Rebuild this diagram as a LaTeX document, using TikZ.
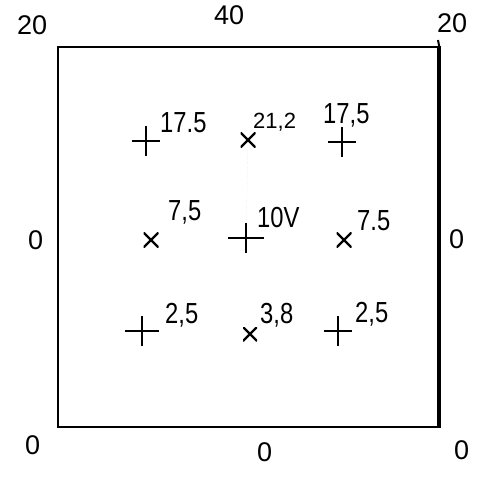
\documentclass[tikz,border=0pt]{standalone}
\usepackage{fontspec}
\setmainfont{Liberation Sans}
\newfontfamily\narrowfont[FakeStretch=0.82]{Liberation Sans}
\usetikzlibrary{positioning}

\begin{document}
\begin{tikzpicture}[x=1pt,y=-1pt,
  val/.style={font=\narrowfont\fontsize{29}{29}\selectfont,anchor=base west,inner sep=0pt},
  small/.style={val,font=\fontsize{22}{22}\selectfont},
  rim/.style={font=\fontsize{27}{27}\selectfont,anchor=base west,inner sep=0pt},
  plusmk/.style={inner sep=0pt,minimum width=28pt,minimum height=30pt,
    path picture={\draw[line width=2.2pt] (path picture bounding box.west) -- (path picture bounding box.east)
      (path picture bounding box.north) -- (path picture bounding box.south);}},
  crossmk/.style={inner sep=0pt,minimum size=15pt,
    path picture={\draw[line width=2.2pt] (path picture bounding box.north west) -- (path picture bounding box.south east)
      (path picture bounding box.north east) -- (path picture bounding box.south west);}}
]
\useasboundingbox (0,0) rectangle (478,477);

% ---- plate ----
\node[draw,line width=2.2pt,inner sep=0pt,minimum width=380pt,minimum height=380pt] (plate) at (248,237) {};
\draw[line width=3.4pt] (plate.north east) -- (plate.south east);
\coordinate (tick) at (438,40);
\draw[line width=2pt] (plate.north east) -- (tick);

% ---- boundary values ----
\node[rim] (tl) at (17,34) {20};
\node[rim] (top) at (214,24) {40};
\node[rim] (tr) at (437,32) {20};
\node[rim] (ml) at (28,249) {0};
\node[rim] (mr) at (449,248) {0};
\node[rim] (bl) at (25,454) {0};
\node[rim] (bm) at (257,461) {0};
\node[rim] (br) at (454,459) {0};

% ---- grid points ----
\node[plusmk] (p11) at (146,141) {};
\node[crossmk] (p12) at (248,140) {};
\node[plusmk] (p13) at (342,142) {};
\node[crossmk] (p21) at (151,240) {};
\node[plusmk,minimum width=36pt] (p22) at (246,238) {};
\node[crossmk] (p23) at (344,240) {};
\node[plusmk,minimum width=34pt] (p31) at (142,331) {};
\node[crossmk,minimum size=14pt] (p32) at (250,334) {};
\node[plusmk] (p33) at (338,331) {};
\draw[gray!40,dotted] (p12) -- (p22);

% ---- values ----
\node[val] (v11) at (160,132) {17.5};
\node[small] (v12) at (253,128) {21,2};
\node[val] (v13) at (323,123) {17,5};
\node[val] (v21) at (168,220) {7,5};
\node[val] (v22) at (257,227) {10V};
\node[val] (v23) at (357,230) {7.5};
\node[val] (v31) at (165,323) {2,5};
\node[val] (v32) at (260,323) {3,8};
\node[val] (v33) at (355,322) {2,5};
\end{tikzpicture}
\end{document}
